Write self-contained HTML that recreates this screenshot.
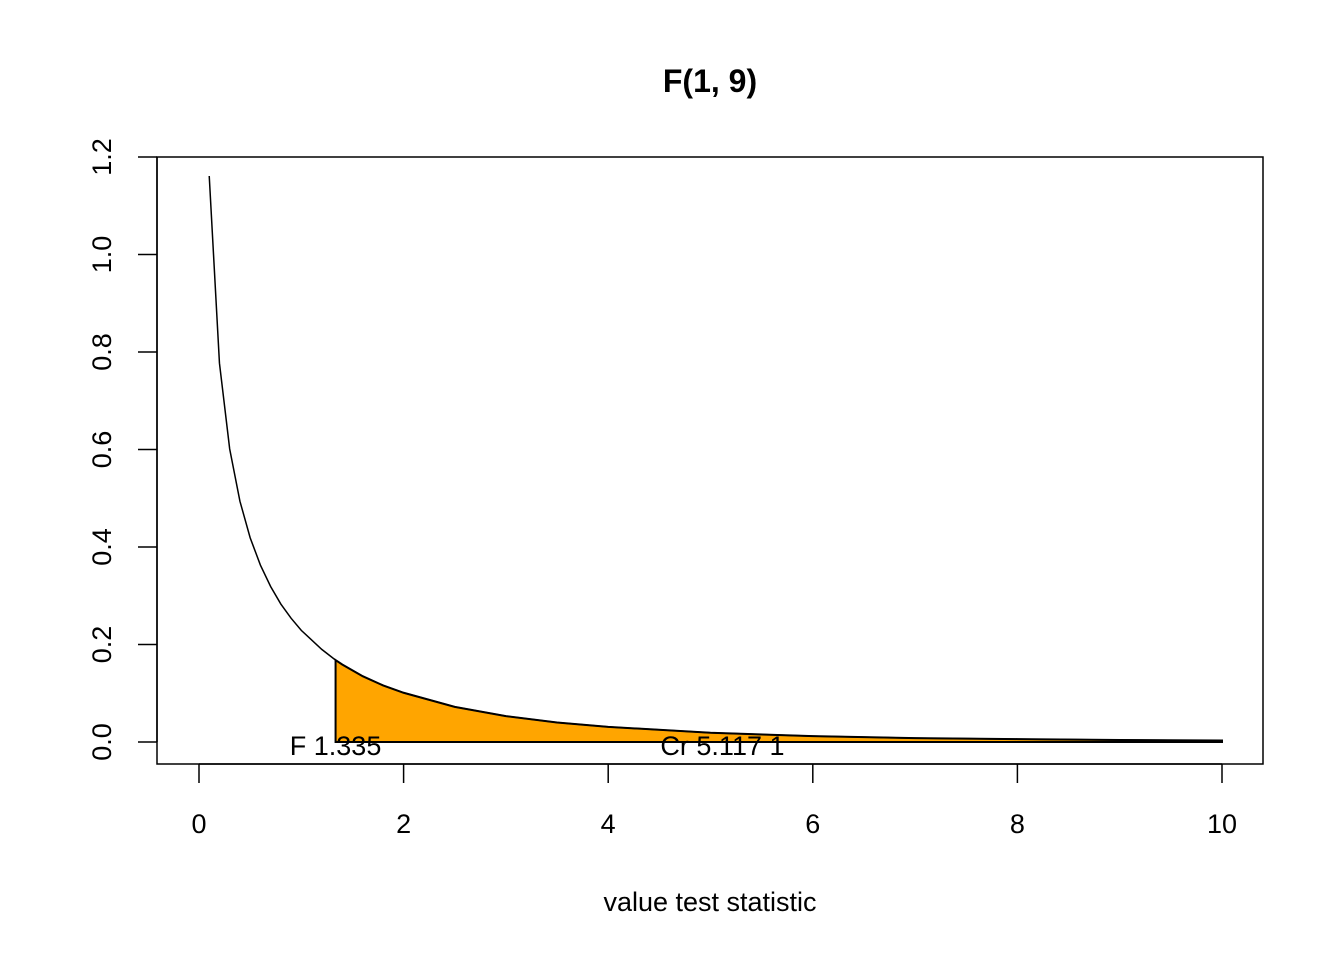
<!DOCTYPE html>
<html><head><meta charset="utf-8"><style>
body{margin:0;background:#fff;}
svg text{font-family:"Liberation Sans",Arial,sans-serif;fill:#000;}
</style></head><body>
<svg id="chart" width="1344" height="960" viewBox="0 0 1344 960">
<rect width="1344" height="960" fill="#fff"/>
<text x="710" y="92" font-size="32" font-weight="bold" text-anchor="middle">F(1, 9)</text>
<rect x="157" y="157" width="1106" height="607" fill="none" stroke="#000" stroke-width="1.5"/>
<g id="shade"></g>
<g id="curve"></g>
<g id="xaxis"></g>
<g id="yaxis"></g>
<text x="710" y="911" font-size="27" text-anchor="middle">value test statistic</text>
<g id="labels"></g>
</svg>
<script>
const xs = [0.1,0.2,0.3,0.4,0.5,0.6,0.7,0.8,0.9,1.0,1.2,1.335,1.4,1.6,1.8,2.0,2.5,3.0,3.5,4,5,6,7,8,9,10];
const ys = [1.161,0.777,0.601,0.494,0.419,0.363,0.319,0.283,0.254,0.229,0.190,0.168,0.159,0.135,0.116,0.101,0.072,0.053,0.040,0.031,0.019,0.012,0.008,0.006,0.004,0.003];
const fStat = 1.335;
const critical = 5.117;
const xTicks = [0,2,4,6,8,10];
const yTicks = [0,0.2,0.4,0.6,0.8,1.0,1.2];
const yTickLabels = ["0.0","0.2","0.4","0.6","0.8","1.0","1.2"];
const NS="http://www.w3.org/2000/svg";
const X = v => 199 + v*102.3;
const Y = v => 742 - v*487.5;
function mk(tag, attrs, parent){const e=document.createElementNS(NS,tag);for(const k in attrs)e.setAttribute(k,attrs[k]);document.getElementById(parent).appendChild(e);return e;}
// shade
let sp=[[X(fStat),Y(0)]];
xs.forEach((x,i)=>{if(x>=fStat) sp.push([X(x),Y(ys[i])]);});
sp.push([X(10),Y(0)]);
const poly=mk('polygon',{points:sp.map(p=>p.join(',')).join(' '),fill:'#FFA500',stroke:'#000','stroke-width':2},'shade');


const line=mk('polyline',{points:xs.map((x,i)=>X(x)+','+Y(ys[i])).join(' '),fill:'none',stroke:'#000','stroke-width':1.5},'curve');


// x axis
const xl=mk('line',{x1:X(xTicks[0]),x2:X(xTicks[xTicks.length-1]),y1:764,y2:764,stroke:'#000','stroke-width':1.5},'xaxis');


xTicks.forEach(t=>{
 const tk=mk('line',{x1:X(t),x2:X(t),y1:764,y2:783,stroke:'#000','stroke-width':1.5},'xaxis');
 
 
 const tx=mk('text',{x:X(t),y:833,'font-size':27,'text-anchor':'middle'},'xaxis');
 tx.textContent=t;
 
 
});
const yl=mk('line',{x1:157,x2:157,y1:Y(yTicks[0]),y2:Y(yTicks[yTicks.length-1]),stroke:'#000','stroke-width':1.5},'yaxis');


yTicks.forEach((t,i)=>{
 const tk=mk('line',{x1:138,x2:157,y1:Y(t),y2:Y(t),stroke:'#000','stroke-width':1.5},'yaxis');
 
 
 const tx=mk('text',{x:111,y:Y(t),'font-size':27,'text-anchor':'middle',transform:'rotate(-90 111 '+Y(t)+')'},'yaxis');
 tx.textContent=yTickLabels[i];
 
 
});
const l1=mk('text',{x:X(fStat),y:755,'font-size':27,'text-anchor':'middle','xml:space':'preserve'},'labels');
l1.textContent='F  '+fStat.toFixed(3);


const l2=mk('text',{x:X(critical),y:755,'font-size':27,'text-anchor':'middle','xml:space':'preserve'},'labels');
l2.textContent='Cr  '+critical.toFixed(3)+' 1';


</script>
</body></html>
